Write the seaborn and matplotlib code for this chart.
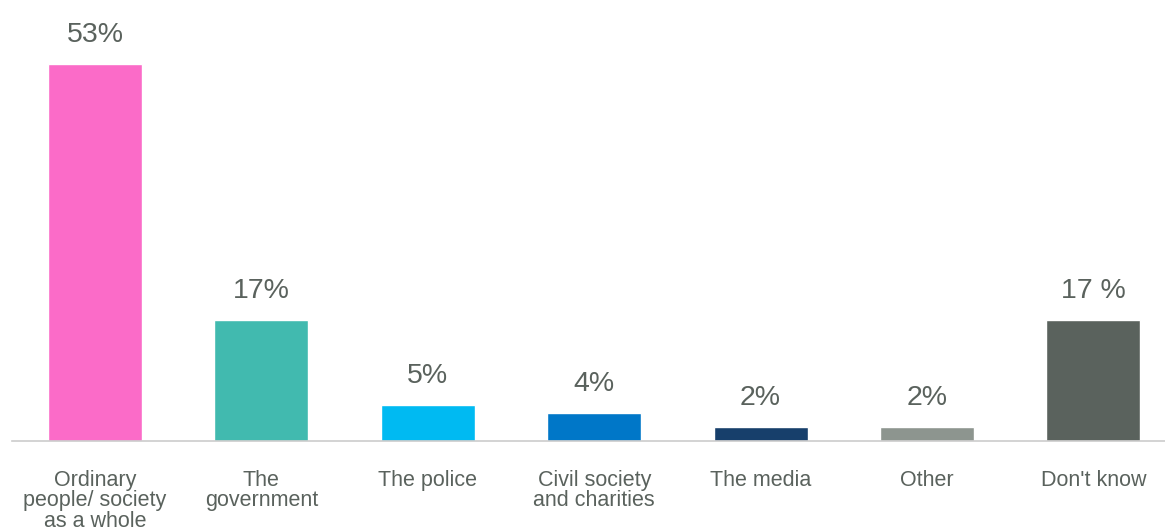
import matplotlib
matplotlib.use("Agg")
import matplotlib.pyplot as plt
import seaborn as sns
import pandas as pd

categories = ["Ordinary\npeople/ society\nas a whole", "The\ngovernment", "The police",
              "Civil society\nand charities", "The media", "Other", "Don't know"]
values = [53, 17, 5, 4, 2, 2, 17]
value_labels = ["53%", "17%", "5%", "4%", "2%", "2%", "17 %"]
colors = ["#FB6BC8", "#41BAAF", "#00BAF2", "#0077C8", "#173F6B", "#8D958F", "#5A625D"]

sns.set_theme(style="white")
plt.rcParams['font.family'] = ['Liberation Sans', 'DejaVu Sans']

df = pd.DataFrame({"cat": categories, "val": values})

fig = plt.figure(figsize=(11.65, 5.31), dpi=100)
ax = fig.add_axes([0.0101, 0.1695, 0.9899, 0.8305])
sns.barplot(data=df, x="cat", y="val", hue="cat", palette=colors, legend=False,
            width=0.565, ax=ax, saturation=1)
ax.set_xlim(-0.5, 6.43)
ax.set_ylim(0, 62)
for i, (v, lab) in enumerate(zip(values, value_labels)):
    ax.annotate(lab, (i, v), xytext=(0, 11.5), textcoords="offset points",
                ha="center", va="bottom", fontsize=20.5, color="#5A625D")
ax.set_xlabel("")
ax.set_ylabel("")
ax.set_yticks([])
ax.tick_params(axis="x", length=0, pad=21, labelsize=15.5, labelcolor="#5A625D")
for lab in ax.get_xticklabels():
    lab.set_linespacing(0.95)
    lab.set_verticalalignment("top")
for s in ["top", "right", "left"]:
    ax.spines[s].set_visible(False)
ax.spines["bottom"].set_color("#CCCCCC")
ax.spines["bottom"].set_linewidth(1.2)
fig.savefig("out.png", dpi=100)
